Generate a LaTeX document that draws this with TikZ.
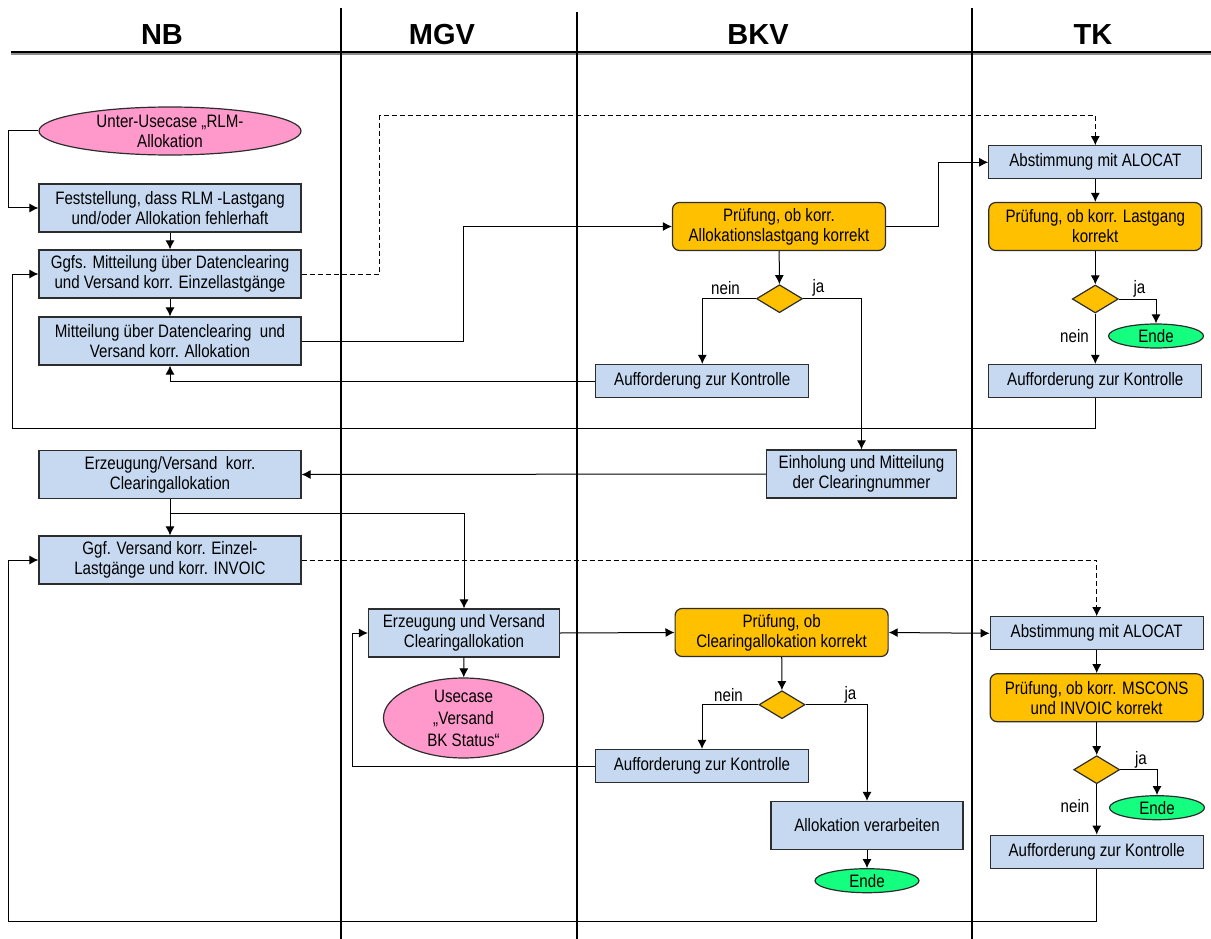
\documentclass[tikz,border=0pt]{standalone}
\usepackage{fontspec}
\setmainfont{Liberation Sans}
\newfontfamily\narrowsans{Liberation Sans}[FakeStretch=0.84]
\usetikzlibrary{shapes.geometric,arrows.meta,positioning}

\definecolor{taskblue}{RGB}{198,217,241}
\definecolor{checkorange}{RGB}{255,192,0}
\definecolor{casepink}{RGB}{255,153,204}
\definecolor{endgreen}{RGB}{20,255,128}
\definecolor{edgegray}{RGB}{45,45,45}

\begin{document}
\begin{tikzpicture}[x=1pt, y=-1pt,
  every node/.style={font={\narrowsans\fontsize{18}{20}\selectfont}},
  lanehead/.style={font={\fontsize{29}{32}\selectfont\bfseries}},
  lane/.style={line width=2.5pt, draw=black},
  task/.style={rectangle, draw=edgegray, line width=1.2pt, fill=taskblue, align=center,
               inner sep=0pt, minimum width=213pt, minimum height=48pt},
  nbtask/.style={task, minimum width=262pt},
  check/.style={task, fill=checkorange, rounded corners=7pt},
  decision/.style={diamond, draw=edgegray, line width=1.2pt, fill=checkorange,
                   inner sep=0pt, minimum width=46pt, minimum height=28pt},
  usecase/.style={ellipse, draw=edgegray, line width=1.2pt, fill=casepink, align=center,
                  inner sep=0pt},
  terminal/.style={ellipse, draw=edgegray, line width=1.2pt, fill=endgreen,
                   inner sep=0pt, minimum width=95pt, minimum height=24pt},
  lbl/.style={inner sep=0pt},
  arr/.style={-{Latex[length=9pt,width=9pt]}, line width=1pt, draw=black},
  darr/.style={arr, dash pattern=on 5pt off 3pt}]

\useasboundingbox (0,0) rectangle (1211,939);

% swim lanes
\draw[lane, draw=black!45] (11,53.5) -- (1211,53.5);
\draw[lane] (11,52) -- (1211,52);
\draw[lane] (341,8) -- (341,939);
\draw[lane] (577,12) -- (577,939);
\draw[lane] (972,8) -- (972,939);
\node[lanehead] (hNB) at (162,35) {NB};
\node[lanehead] (hMGV) at (442,35) {MGV};
\node[lanehead] (hBKV) at (758,35) {BKV};
\node[lanehead] (hTK) at (1093,35) {TK};

% NB
\node[usecase, minimum width=262pt, minimum height=48pt] (rlmcase) at (170,131) {Unter-Usecase „RLM-\\Allokation};
\node[nbtask] (feststellung) at (170,208) {Feststellung, dass RLM -Lastgang\\und/oder Allokation fehlerhaft};
\node[nbtask] (mitteilungEL) at (170,274) {Ggfs. Mitteilung über Datenclearing\\und Versand korr. Einzellastgänge};
\node[nbtask] (mitteilungAL) at (170,341) {Mitteilung über Datenclearing~ und\\Versand korr. Allokation};
\node[nbtask] (erzeugungNB) at (170,474.5) {Erzeugung/Versand~ korr.\\Clearingallokation};
\node[nbtask] (versandNB) at (170,560) {Ggf. Versand korr. Einzel-\\Lastgänge und korr. INVOIC};

% MGV
\node[task, minimum width=191pt] (erzeugungMGV) at (464,633) {Erzeugung und Versand\\Clearingallokation};
\node[usecase, minimum width=160pt, minimum height=75pt, font={\narrowsans\fontsize{18}{22}\selectfont}] (bkcase) at (463.5,718) {Usecase\\„Versand\\BK Status“};

% BKV
\node[check] (pruefAL) at (779,226.5) {Prüfung, ob korr.\\Allokationslastgang korrekt};
\node[decision] (decAL) at (779.5,298.7) {};
\node[task, minimum height=33pt] (kontrolleAL) at (702.3,381) {Aufforderung zur Kontrolle};
\node[task, minimum width=190pt] (einholung) at (861.5,474) {Einholung und Mitteilung\\der Clearingnummer};
\node[check] (pruefCA) at (781.6,632.5) {Prüfung, ob\\Clearingallokation korrekt};
\node[decision] (decCA) at (782,704.7) {};
\node[task, minimum height=33pt] (kontrolleCA) at (702,766) {Aufforderung zur Kontrolle};
\node[task, minimum width=192pt] (verarbeiten) at (867,825.5) {Allokation verarbeiten};
\node[terminal, minimum width=104pt] (endeCA) at (867,880.7) {Ende};

% TK
\node[task, minimum height=33pt] (alocatLG) at (1095.3,162.3) {Abstimmung mit ALOCAT};
\node[check] (pruefLG) at (1095.3,226.5) {Prüfung, ob korr. Lastgang\\korrekt};
\node[decision] (decLG) at (1095.3,299) {};
\node[terminal] (endeLG) at (1156,336) {Ende};
\node[task, minimum height=33pt] (kontrolleLG) at (1095.3,381) {Aufforderung zur Kontrolle};
\node[task, minimum height=33pt] (alocatMS) at (1096.7,633.3) {Abstimmung mit ALOCAT};
\node[check] (pruefMS) at (1096.7,697.7) {Prüfung, ob korr. MSCONS\\und INVOIC korrekt};
\node[decision] (decMS) at (1096.7,769.7) {};
\node[terminal] (endeMS) at (1157,807.7) {Ende};
\node[task, minimum height=33pt] (kontrolleMS) at (1096.7,851.7) {Aufforderung zur Kontrolle};

% branch labels
\node[lbl] (neinAL) at (725.5,288) {nein};
\node[lbl] (jaAL) at (818.5,288) {ja};
\node[lbl] (jaLG) at (1139.5,289) {ja};
\node[lbl] (neinLG) at (1074.5,336.5) {nein};
\node[lbl] (neinCA) at (728.5,695) {nein};
\node[lbl] (jaCA) at (850.5,695) {ja};
\node[lbl] (jaMS) at (1141,760) {ja};
\node[lbl] (neinMS) at (1075,806.5) {nein};

\coordinate (dashLG) at (1095.3,116);
\coordinate (loopLG) at (12,428);
\coordinate (loopMS) at (8,921);

% upper flow
\draw[arr] (rlmcase.west) -- ++(-30,0) |- (feststellung.west);
\draw[arr] (feststellung) -- (mitteilungEL);
\draw[arr] (mitteilungEL) -- (mitteilungAL);
\draw[darr] (mitteilungEL.east) -- ++(78,0) |- (dashLG) -- (alocatLG.north);
\draw[arr] (mitteilungAL.east) -- ++(162,0) |- (pruefAL.west);
\draw[arr] (pruefAL.east) -- ++(52,0) |- (alocatLG.west);
\draw[arr] (pruefAL) -- (decAL);
\draw[arr] (decAL.west) -| (kontrolleAL.north);
\draw[arr] (decAL.east) -| (einholung.north);
\draw[arr] (kontrolleAL.west) -| (mitteilungAL.south);
\draw[arr] (alocatLG) -- (pruefLG);
\draw[arr] (pruefLG) -- (decLG);
\draw[arr] (decLG.east) -| (endeLG.north);
\draw[arr] (decLG) -- (kontrolleLG);
\draw[arr] (kontrolleLG.south) |- (loopLG) |- (mitteilungEL.west);

% lower flow
\draw[arr] (einholung.west) -- (erzeugungNB.east);
\draw[arr] (erzeugungNB) -- (versandNB);
\draw[arr] (erzeugungNB.south) -- ++(0,14) -| (erzeugungMGV.north);
\draw[darr] (versandNB.east) -| (alocatMS.north);
\draw[arr] (erzeugungMGV) -- (bkcase);
\draw[arr] (erzeugungMGV.east) -- (pruefCA.west);
\draw[{Latex[length=9pt,width=9pt]}-{Latex[length=9pt,width=9pt]}, line width=1pt] (pruefCA.east) -- (alocatMS.west);
\draw[arr] (pruefCA) -- (decCA);
\draw[arr] (decCA.west) -| (kontrolleCA.north);
\draw[arr] (decCA.east) -| (verarbeiten.north);
\draw[arr] (kontrolleCA.west) -- ++(-242.7,0) |- (erzeugungMGV.west);
\draw[arr] (verarbeiten) -- (endeCA);
\draw[arr] (alocatMS) -- (pruefMS);
\draw[arr] (pruefMS) -- (decMS);
\draw[arr] (decMS.east) -| (endeMS.north);
\draw[arr] (decMS) -- (kontrolleMS);
\draw[arr] (kontrolleMS.south) |- (loopMS) |- (versandNB.west);
\end{tikzpicture}
\end{document}
